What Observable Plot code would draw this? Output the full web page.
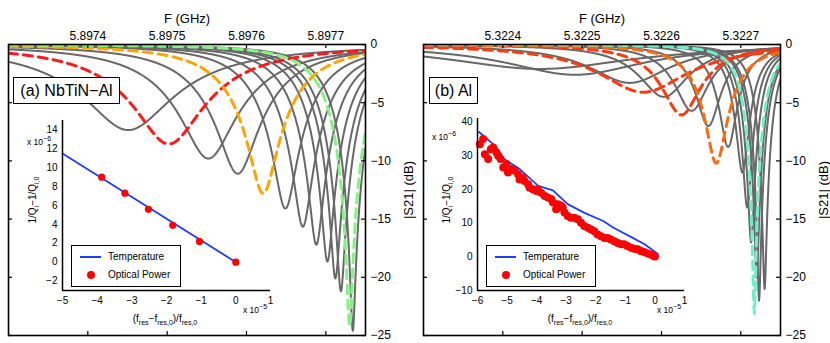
<!DOCTYPE html>
<html><head><meta charset="utf-8">
<script src="https://cdn.jsdelivr.net/npm/d3@7"></script>
<script src="https://cdn.jsdelivr.net/npm/@observablehq/plot@0.6"></script>
<style>
body{margin:0;background:#fff;}
#root{position:relative;width:830px;height:343px;overflow:hidden;font-family:'Liberation Sans',Arial,sans-serif;color:#000;background:#fff}
.abs{position:absolute;white-space:nowrap}
.box{position:absolute;border:1px solid #000;background:#fff;box-sizing:border-box;display:flex;align-items:center;justify-content:center;font-size:16px}
.rot{transform:translate(-50%,-50%) rotate(-90deg)}
.ctr{transform:translate(-50%,-50%)}
sub,sup{font-size:7px;line-height:0}
.leg{position:absolute;border:1px solid #000;background:#fff;box-sizing:border-box;font-size:10px}
.leg .row{position:absolute;left:8px;display:flex;align-items:center}
.leg .ln{display:inline-block;width:21px;height:0;border-top:2px solid #1f3cff;margin-right:7px}
.leg .dt{display:inline-block;width:8px;height:8px;border-radius:50%;background:#ff0000;margin:0 13px 0 7px}
</style></head><body><div id="root"></div><script>
// ---------- Data ----------
// Panel (a) NbTiN-Al resonances: centre (GHz), depth (dB), half-width (kHz), style
const aCenters = [5.897451, 5.897502, 5.897552, 5.897589, 5.897621, 5.897649, 5.897671, 5.897688, 5.897702, 5.897712, 5.897719, 5.897730, 5.897734];
const aDepths  = [-7.35, -8.55, -9.8, -11.1, -12.8, -14.1, -15.65, -17.2, -18.65, -20.1, -21.2, -24.2, -24.6];
const aWidths  = [112, 96, 85, 72, 62, 57, 54, 50, 47, 46, 45, 44, 42];
const aKinds   = ["gray","red","gray","gray","orange","gray","gray","gray","gray","gray","gray","green","gray"];
// Panel (b) Al resonances
const bCenters = [5.322447, 5.322491, 5.322560, 5.322603, 5.322638, 5.322659, 5.322684, 5.322702, 5.322708, 5.322713, 5.322720, 5.322723, 5.322730, 5.322577, 5.322625, 5.322669, 5.322717];
const bDepths  = [-2.1, -2.6, -3.3, -4.5, -5.7, -7.0, -8.8, -11.0, -14, -17, -20, -22, -21, -4.1, -6.05, -10.2, -23.1];
const bWidths  = [163, 125, 75, 50, 37, 30, 25, 22, 21, 21, 21, 21, 20, 88, 44, 35, 22];
const bKinds   = ["gray","gray","gray","gray","gray","gray","gray","gray","gray","gray","gray","gray","gray","red","red","orange","aqua"];

const aFreqTicks = [5.8974, 5.8975, 5.8976, 5.8977];
const bFreqTicks = [5.3224, 5.3225, 5.3226, 5.3227];
const dbTicks = [0, -5, -10, -15, -20, -25];

// Inset (a)
const tempAx = [-5, 0];
const tempAy = [11.5, 0];
const optAx = [-3.87, -3.2, -2.52, -1.82, -1.05, 0];
const optAy = [9.0, 7.3, 5.6, 3.9, 2.2, 0];
const insetAxTicks = [-5, -4, -3, -2, -1, 0, 1];
const insetAyTicks = [-2, 0, 2, 4, 6, 8, 10, 12, 14];
// Inset (b)
const tempBx = [-5.95, -5.4, -5.1, -4.6, -3.95, -3.45, -2.95, -2.4, -1.75, -1.4, -0.75, -0.35, 0.1];
const tempBy = [37.0, 32.9, 29.0, 26.2, 21.0, 19.7, 15.6, 13.1, 10.6, 8.6, 5.6, 3.7, 0.8];
const optBx = [-5.92,-5.81,-5.75,-5.64,-5.55,-5.47,-5.36,-5.30,-5.22,-5.13,-5.02,-4.97,-4.86,-4.74,-4.63,-4.58,-4.47,-4.41,-4.29,-4.24,-4.13,-4.01,-3.96,-3.85,-3.73,-3.62,-3.51,-3.45,-3.34,-3.28,-3.17,-3.12,-3.06,-2.95,-2.84,-2.73,-2.61,-2.50,-2.39,-2.27,-2.16,-2.05,-1.94,-1.82,-1.71,-1.60,-1.49,-1.37,-1.26,-1.15,-1.04,-0.93,-0.81,-0.70,-0.59,-0.48,-0.37,-0.25,-0.14,-0.07,0];
const optBy = [33.4,34.9,30.4,29.0,31.9,32.4,30.9,29.9,29.0,26.5,27.5,25.0,26.0,25.5,24.5,22.9,23.5,22.5,21.5,20.5,20.0,19.5,20.0,19.0,18.0,17.6,17.1,16.1,14.1,15.6,15.1,14.6,13.1,12.1,11.6,11.6,11.1,10.1,9.1,8.6,8.1,7.6,6.6,6.1,5.6,5.6,5.1,4.6,4.1,3.7,3.7,3.2,2.7,2.4,2.2,1.7,1.4,1.0,0.7,0.4,0.1];
const insetBxTicks = [-6, -5, -4, -3, -2, -1, 0, 1];
const insetByTicks = [-10, 0, 10, 20, 30, 40];

// ---------- Styles ----------
const fontFamily = "'Liberation Sans', Arial, sans-serif";
const gray = "#686868";
const palette = {red: "#ff1a1a", orange: "#ffa500", green: "#86f286", aqua: "#70f0c8"};
const paletteB = {red: "#ff3a10", orange: "#ff6a10", aqua: "#70f0c8"};

function resonanceRows(centers, depths, widths, kinds, domain) {
  const n = 900, rows = [];
  centers.forEach((f0, i) => {
    const a = 1 - Math.pow(10, depths[i] / 20);
    const hw = widths[i] * 1e-6;
    const grid = d3.range(n + 1).map(k => domain[0] + (domain[1] - domain[0]) * k / n);
    grid.push(f0); grid.sort((p, q) => p - q);
    for (const f of grid) {
      const u = (f - f0) / hw;
      rows.push({f, db: 10 * Math.log10(((1 - a) ** 2 + u * u) / (1 + u * u)), id: i, kind: kinds[i]});
    }
  });
  return rows;
}

function mainPanel(domain, ticks, rows, colors) {
  const dashed = Object.keys(colors).map(k =>
    Plot.line(rows.filter(d => d.kind === k), {x: "f", y: "db", z: "id", stroke: colors[k], strokeWidth: 3, strokeDasharray: "9,6", clip: true}));
  return Plot.plot({
    width: 415, height: 343, marginLeft: 8, marginRight: 50, marginTop: 44, marginBottom: 8,
    style: {fontFamily, fontSize: "12px", background: "transparent", overflow: "visible"},
    x: {domain, axis: null}, y: {domain: [-25, 0], axis: null},
    marks: [
      Plot.line(rows.filter(d => d.kind === "gray"), {x: "f", y: "db", z: "id", stroke: gray, strokeWidth: 2, clip: true}),
      ...dashed,
      Plot.frame({stroke: "#000", strokeWidth: 1.6}),
      Plot.ruleX(ticks, {stroke: "#000", strokeWidth: 1.2, insetBottom: 287}),
      Plot.ruleX(ticks, {stroke: "#000", strokeWidth: 1.2, insetTop: 287}),
      Plot.ruleY(dbTicks, {stroke: "#000", strokeWidth: 1.2, insetLeft: 353}),
      Plot.ruleY(dbTicks, {stroke: "#000", strokeWidth: 1.2, insetRight: 353}),
      Plot.axisX(ticks, {anchor: "top", tickSize: 0, tickPadding: 5, tickFormat: d => d.toFixed(4), label: null}),
      Plot.axisY(dbTicks, {anchor: "right", tickSize: 0, tickPadding: 5, label: null}),
      Plot.text(["F (GHz)"], {frameAnchor: "top", dy: -31, fontSize: 13}),
      Plot.text(["|S21| (dB)"], {frameAnchor: "right", dx: 43, rotate: -90, textAnchor: "middle", fontSize: 13})
    ]
  });
}

function insetPanel(xdom, ydom, xticks, yticks, line, pts, r, areaW, areaH) {
  return Plot.plot({
    width: 30 + areaW + 10, height: 10 + areaH + 25, marginLeft: 30, marginRight: 10, marginTop: 10, marginBottom: 25,
    style: {fontFamily, fontSize: "10px", background: "transparent", overflow: "visible"},
    x: {domain: xdom, axis: null}, y: {domain: ydom, axis: null},
    marks: [
      Plot.line(line, {x: "x", y: "y", stroke: "#1f3cff", strokeWidth: 1.8}),
      Plot.dot(pts, {x: "x", y: "y", r, fill: "#ff0000"}),
      Plot.ruleX([xdom[0]], {stroke: "#000", strokeWidth: 1.5}),
      Plot.ruleY([ydom[0]], {stroke: "#000", strokeWidth: 1.5}),
      Plot.axisX(xticks, {tickSize: 0, tickPadding: 6, label: null}),
      Plot.axisY(yticks, {tickSize: 0, tickPadding: 5, label: null})
    ]
  });
}

const root = document.getElementById("root");
function place(el, left, top) { el.style.position = "absolute"; el.style.left = left + "px"; el.style.top = top + "px"; root.appendChild(el); }
function html(s, cls, left, top, extra) { const d = document.createElement("div"); d.className = cls; d.innerHTML = s; d.style.left = left + "px"; d.style.top = top + "px"; if (extra) Object.assign(d.style, extra); root.appendChild(d); return d; }

const aDomain = [5.8973, 5.89775], bDomain = [5.3223, 5.32275];
place(mainPanel(aDomain, aFreqTicks, resonanceRows(aCenters, aDepths, aWidths, aKinds, aDomain), palette), 0, 0);
place(mainPanel(bDomain, bFreqTicks, resonanceRows(bCenters, bDepths, bWidths, bKinds, bDomain), paletteB), 415, 0);

const zip = (xs, ys) => xs.map((x, i) => ({x, y: ys[i]}));
place(insetPanel([-5, 1], [-3, 15], insetAxTicks, insetAyTicks, zip(tempAx, tempAy), zip(optAx, optAy), 3.6, 208, 170), 32, 110);
place(insetPanel([-6, 1], [-10, 41], insetBxTicks, insetByTicks, zip(tempBx, tempBy), zip(optBx, optBy), 4, 207, 172), 447, 108);

// panel labels
html("(a) NbTiN−Al", "box", 13, 77, {width: "107px", height: "27px"});
html("(b) Al", "box", 429, 77, {width: "49px", height: "27px"});

// inset annotations
const ylab = "1/Q<sub>i</sub>−1/Q<sub>i,0</sub>";
const xlab = "(f<sub>res</sub>−f<sub>res,0</sub>)/f<sub>res,0</sub>";
html("x 10<sup>−6</sup>", "abs", 27, 137, {fontSize: "8.5px"});
html(ylab, "abs rot", 32, 200, {fontSize: "10px"});
html(xlab, "abs ctr", 165, 318, {fontSize: "10px"});
html("x 10<sup>−5</sup>", "abs", 243, 305, {fontSize: "8.5px"});

html("x 10<sup>−6</sup>", "abs", 432, 132, {fontSize: "8.5px"});
html(ylab, "abs rot", 446, 200, {fontSize: "10px"});
html(xlab, "abs ctr", 580, 318, {fontSize: "10px"});
html("x 10<sup>−5</sup>", "abs", 657, 305, {fontSize: "8.5px"});

// legends
const legHTML = '<div class="row" style="top:5px"><span class="ln"></span>Temperature</div><div class="row" style="top:23px"><span class="dt"></span>Optical Power</div>';
html(legHTML, "leg", 71, 245, {width: "110px", height: "42px"});
html(legHTML, "leg", 486, 245, {width: "110px", height: "42px"});
</script></body></html>
